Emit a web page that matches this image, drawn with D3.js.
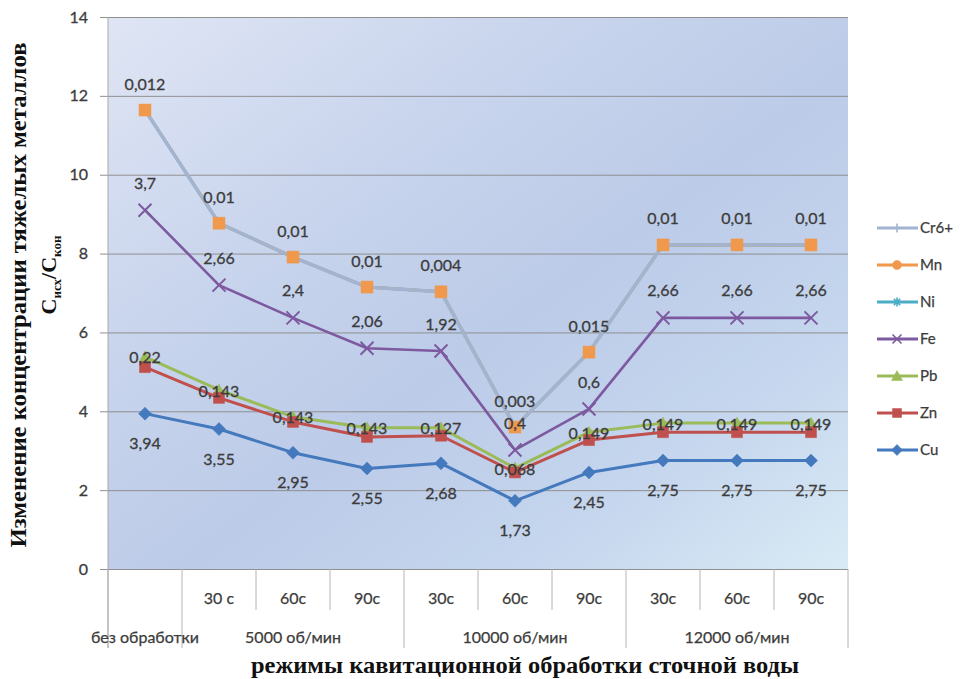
<!DOCTYPE html>
<html>
<head>
<meta charset="utf-8">
<script src="https://cdn.jsdelivr.net/npm/d3@7"></script>
<style>
  html, body { margin: 0; padding: 0; background: #fff; }
  svg { display: block; }
</style>
</head>
<body>
<svg id="chart" width="961" height="679"></svg>
<script>
// Category axis: treatment duration (level 1) and rotor speed group (level 2)
const categories = ["", "30 с", "60с", "90с", "30с", "60с", "90с", "30с", "60с", "90с"];
const groups = ["без обработки", "5000 об/мин", "10000 об/мин", "12000 об/мин"];
const groupSizes = [1, 3, 3, 3];

// Ratio C_исх / C_кон per metal
const cr6 = [11.64, 8.77, 7.91, 7.15, 7.03, 3.6, 5.5, 8.22, 8.22, 8.22];
const mn  = [11.64, 8.77, 7.91, 7.15, 7.03, 3.6, 5.5, 8.22, 8.22, 8.22];
const ni  = [11.64, 8.77, 7.91, 7.15, 7.03, 3.6, 5.5, 8.22, 8.22, 8.22];
const fe  = [9.1, 7.2, 6.37, 5.6, 5.53, 3.02, 4.06, 6.37, 6.37, 6.37];
const pb  = [5.38, 4.54, 3.86, 3.58, 3.58, 2.56, 3.47, 3.7, 3.7, 3.7];
const zn  = [5.12, 4.34, 3.73, 3.35, 3.38, 2.45, 3.27, 3.47, 3.47, 3.47];
const cu  = [3.94, 3.55, 2.95, 2.55, 2.68, 1.73, 2.45, 2.75, 2.75, 2.75];

// Residual concentrations printed next to the points
const labelsCr = ["0,012", "0,01", "0,01", "0,01", "0,004", "0,003", "0,015", "0,01", "0,01", "0,01"];
const labelsFe = ["3,7", "2,66", "2,4", "2,06", "1,92", "0,4", "0,6", "2,66", "2,66", "2,66"];
const labelsPb = ["0,22", "0,143", "0,143", "0,143", "0,127", "0,068", "0,149", "0,149", "0,149", "0,149"];
const labelsCu = ["3,94", "3,55", "2,95", "2,55", "2,68", "1,73", "2,45", "2,75", "2,75", "2,75"];

const yTicks = [0, 2, 4, 6, 8, 10, 12, 14];

const seriesNames = ["Cr6+", "Mn", "Ni", "Fe", "Pb", "Zn", "Cu"];
const seriesValues = [cr6, mn, ni, fe, pb, zn, cu];
const seriesColors = ["#a2b4d0", "#f0984c", "#4bacc6", "#7d5a9f", "#9bbb59", "#c0504d", "#4479bd"];
const seriesMarkers = ["plus", "circle", "star", "x", "triangle", "square", "diamond"];

const svg = d3.select("#chart");
const plotLeft = 108, plotRight = 848, plotTop = 17, plotBottom = 569;

const x = d3.scaleBand().domain(d3.range(categories.length)).range([plotLeft, plotRight]).padding(0);
const cx = i => x(i) + x.bandwidth() / 2;
const y = d3.scaleLinear().domain([0, 14]).range([plotBottom, plotTop]);

// Plot area background: soft blue fill, lighter towards the top-left and bottom-right corners
const defs = svg.append("defs");
const grad = defs.append("linearGradient").attr("id", "bg")
  .attr("x1", 0).attr("y1", 0).attr("x2", 1).attr("y2", 1);
grad.append("stop").attr("offset", "0%").attr("stop-color", "#dfe5f4");
grad.append("stop").attr("offset", "30%").attr("stop-color", "#c9d5ed");
grad.append("stop").attr("offset", "55%").attr("stop-color", "#bccbe8");
grad.append("stop").attr("offset", "78%").attr("stop-color", "#c5d6ee");
grad.append("stop").attr("offset", "100%").attr("stop-color", "#d9ebf5");
svg.append("rect").attr("x", plotLeft).attr("y", plotTop)
  .attr("width", plotRight - plotLeft).attr("height", plotBottom - plotTop)
  .attr("fill", "url(#bg)");

const textColor = "#3c3c3c";
const labelFont = "Lato, 'Open Sans', sans-serif";

// Value axis with gridlines
const yAxis = d3.axisLeft(y).tickValues(yTicks).tickSize(plotRight - 100).tickPadding(12)
  .tickFormat(d3.format("d"));
const yg = svg.append("g").attr("transform", `translate(${plotRight},0)`).call(yAxis);
yg.select(".domain").remove();
yg.selectAll(".tick line").attr("stroke", "#8f8f8f").attr("stroke-width", 1);
yg.selectAll(".tick text").attr("fill", textColor).attr("font-family", labelFont)
  .attr("font-size", 16).attr("stroke", textColor).attr("stroke-width", 0.3);

// Vertical axis line
svg.append("line").attr("x1", plotLeft).attr("x2", plotLeft).attr("y1", plotTop).attr("y2", 648)
  .attr("stroke", "#a8a8a8").attr("stroke-width", 1);

// Category dividers: short between durations, long between speed groups
const groupStarts = [0];
groupSizes.forEach((s, i) => groupStarts.push(groupStarts[i] + s));
const bounds = d3.range(categories.length + 1);
const edge = i => i < categories.length ? x(i) : plotRight;
svg.append("g").selectAll("line").data(bounds).join("line")
  .attr("x1", edge).attr("x2", edge)
  .attr("y1", plotBottom)
  .attr("y2", i => groupStarts.includes(i) ? 648 : 610)
  .attr("stroke", "#b4b4b4").attr("stroke-width", 1);

svg.append("g").selectAll("text").data(categories).join("text")
  .attr("x", (d, i) => cx(i)).attr("y", 604)
  .attr("text-anchor", "middle").attr("font-family", labelFont).attr("font-size", 16)
  .attr("fill", textColor).attr("stroke", textColor).attr("stroke-width", 0.25).text(d => d);

svg.append("g").selectAll("text").data(groups).join("text")
  .attr("x", (d, i) => (edge(groupStarts[i]) + edge(groupStarts[i + 1])) / 2)
  .attr("y", 643)
  .attr("text-anchor", "middle").attr("font-family", labelFont).attr("font-size", 16)
  .attr("fill", textColor).attr("stroke", textColor).attr("stroke-width", 0.25).text(d => d);

// Marker shapes
function markerPath(type, s) {
  const h = s / 2;
  switch (type) {
    case "diamond": return `M0,${-h - 1}L${h + 1},0L0,${h + 1}L${-h - 1},0Z`;
    case "square": return `M${-h},${-h}h${s}v${s}h${-s}Z`;
    case "triangle": return `M0,${-h - 1}L${h + 1},${h}L${-h - 1},${h}Z`;
    case "circle": return d3.symbol(d3.symbolCircle, s * s * 0.8)();
    case "x": return `M${-h},${-h}L${h},${h}M${-h},${h}L${h},${-h}`;
    case "plus": return `M${-h},0H${h}M0,${-h}V${h}`;
    case "star": return `M${-h},0H${h}M0,${-h}V${h}M${-h * 0.7},${-h * 0.7}L${h * 0.7},${h * 0.7}M${-h * 0.7},${h * 0.7}L${h * 0.7},${-h * 0.7}`;
  }
}
const strokeOnly = t => t === "x" || t === "plus" || t === "star";

const line = d3.line().x((d, i) => cx(i)).y(d => y(d));

// Cr6+ line sits above the coincident Mn and Ni lines, Mn markers on top of it
const widths = [3.4, 3, 3, 2.6, 3, 3, 3];
const plot = svg.append("g");
function drawLine(k) {
  plot.append("path").datum(seriesValues[k]).attr("d", line)
    .attr("fill", "none").attr("stroke", seriesColors[k]).attr("stroke-width", widths[k])
    .attr("stroke-linejoin", "round");
}
function drawMarkers(k, type, size) {
  plot.append("g").selectAll("path").data(seriesValues[k]).join("path")
    .attr("transform", (d, i) => `translate(${cx(i)},${y(d)})`)
    .attr("d", markerPath(type, size))
    .attr("fill", strokeOnly(type) ? "none" : seriesColors[k])
    .attr("stroke", seriesColors[k]).attr("stroke-width", strokeOnly(type) ? 2 : 0.5);
}
drawLine(2); drawLine(1); drawLine(0);
drawMarkers(0, "plus", 12);
drawMarkers(1, "square", 12);
drawLine(3); drawMarkers(3, "x", 13);
drawLine(4); drawMarkers(4, "triangle", 10);
drawLine(5); drawMarkers(5, "square", 11);
drawLine(6); drawMarkers(6, "diamond", 11);

// Data labels
function drawLabels(values, labels, offset) {
  svg.append("g").selectAll("text").data(labels).join("text")
    .attr("x", (d, i) => cx(i)).attr("y", (d, i) => y(values[i]) + offset)
    .attr("dy", "0.35em").attr("text-anchor", "middle")
    .attr("font-family", labelFont).attr("font-size", 16)
    .attr("fill", textColor).attr("stroke", textColor).attr("stroke-width", 0.3)
    .text(d => d);
}
drawLabels(cr6, labelsCr, -26);
drawLabels(fe, labelsFe, -27);
drawLabels(pb, labelsPb, 1);
drawLabels(cu, labelsCu, 30);

// Legend
const legend = svg.append("g");
seriesNames.forEach((name, k) => {
  const ly = 228 + k * 37;
  const g = legend.append("g").attr("transform", `translate(0,${ly})`);
  g.append("line").attr("x1", 877).attr("x2", 918).attr("y1", 0).attr("y2", 0)
    .attr("stroke", seriesColors[k]).attr("stroke-width", 3);
  const t = seriesMarkers[k];
  g.append("path").attr("transform", "translate(897,0)")
    .attr("d", markerPath(t, 9))
    .attr("fill", strokeOnly(t) ? "none" : seriesColors[k])
    .attr("stroke", seriesColors[k]).attr("stroke-width", strokeOnly(t) ? 1.6 : 0.5);
  g.append("text").attr("x", 920).attr("y", 0).attr("dy", "0.35em")
    .attr("font-family", labelFont).attr("font-size", 15)
    .attr("fill", textColor).attr("stroke", textColor).attr("stroke-width", 0.25).text(name);
});

// Axis titles
const titleFont = "'Liberation Serif', 'Times New Roman', serif";
svg.append("text").attr("transform", "translate(26,295) rotate(-90)")
  .attr("text-anchor", "middle").attr("font-family", titleFont).attr("font-weight", "bold")
  .attr("font-size", 23).attr("fill", "#111")
  .attr("textLength", 505).attr("lengthAdjust", "spacingAndGlyphs")
  .text("Изменение концентрации тяжелых металлов");

const sub = svg.append("text").attr("transform", "translate(56,275) rotate(-90)")
  .attr("text-anchor", "middle").attr("font-family", titleFont).attr("font-weight", "bold")
  .attr("font-size", 22).attr("fill", "#111");
sub.append("tspan").text("C");
sub.append("tspan").attr("font-size", 13).attr("dy", 5).text("исх");
sub.append("tspan").attr("dy", -5).text("/C");
sub.append("tspan").attr("font-size", 13).attr("dy", 5).text("кон");

svg.append("text").attr("x", 525).attr("y", 673)
  .attr("text-anchor", "middle").attr("font-family", titleFont).attr("font-weight", "bold")
  .attr("font-size", 23).attr("fill", "#111")
  .attr("textLength", 548).attr("lengthAdjust", "spacingAndGlyphs")
  .text("режимы кавитационной обработки сточной воды");
</script>
</body>
</html>
